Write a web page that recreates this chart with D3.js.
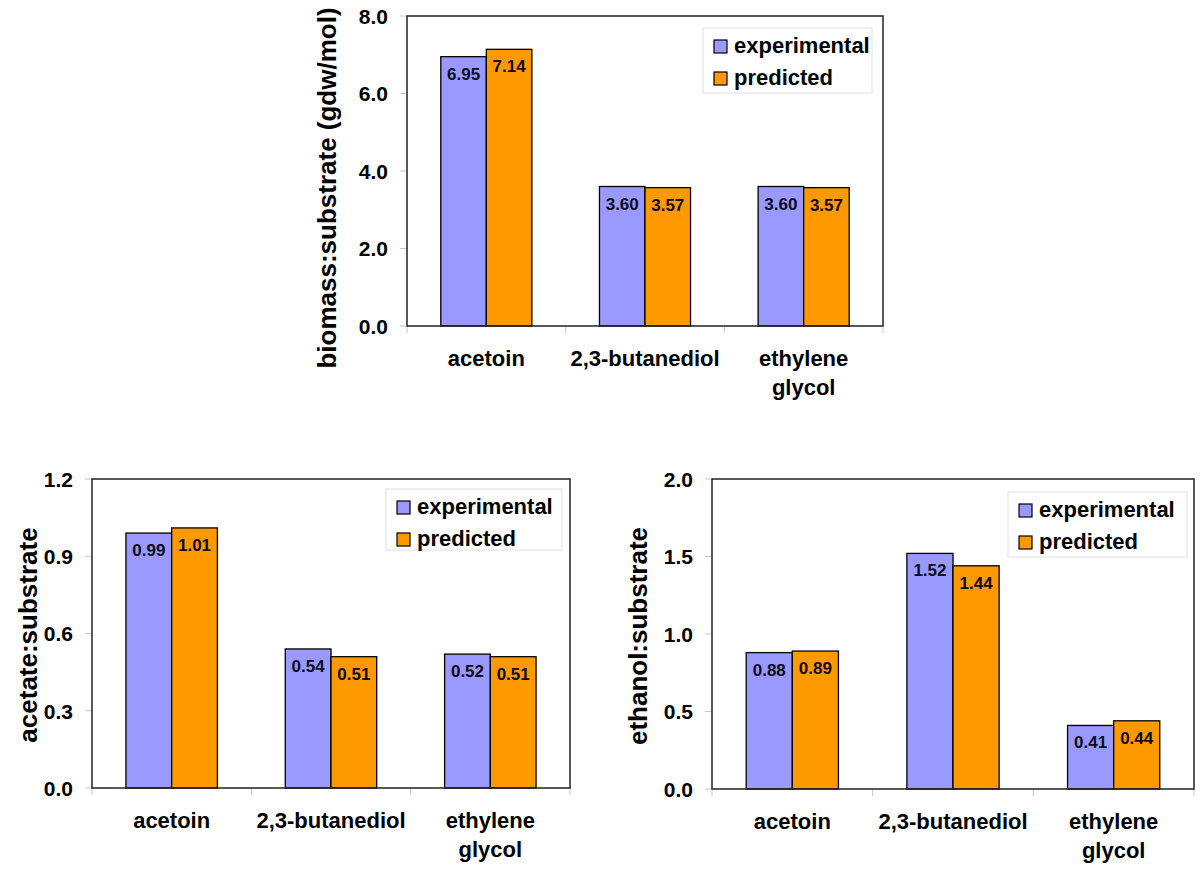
<!DOCTYPE html>
<html><head><meta charset="utf-8">
<script src="https://cdn.jsdelivr.net/npm/d3@7"></script>
<style>html,body{margin:0;padding:0;background:#fff;}svg{display:block;}</style>
</head><body>
<svg id="c" width="1200" height="870"></svg>
<script>
// ---- data ----
const categories = [["acetoin"], ["2,3-butanediol"], ["ethylene", "glycol"]];
const seriesNames = ["experimental", "predicted"];
const biomassExp = [6.95, 3.60, 3.60];
const biomassPred = [7.14, 3.57, 3.57];
const acetateExp = [0.99, 0.54, 0.52];
const acetatePred = [1.01, 0.51, 0.51];
const ethanolExp = [0.88, 1.52, 0.41];
const ethanolPred = [0.89, 1.44, 0.44];
const biomassTicks = [0, 2, 4, 6, 8];
const acetateTicks = [0, 0.3, 0.6, 0.9, 1.2];
const ethanolTicks = [0, 0.5, 1.0, 1.5, 2.0];
const titles = ["biomass:substrate (gdw/mol)", "acetate:substrate", "ethanol:substrate"];

// ---- layout ----
const colors = ["#9999FF", "#FF9900"];
const FONT = "'Liberation Sans', Arial, Helvetica, sans-serif";
const panels = [
  {x: 407, y: 16, w: 476, h: 310, exp: biomassExp, pred: biomassPred, ticks: biomassTicks, max: 8, title: titles[0], titleX: -80, titleY: 172, legend: {x: -180, y: 12, w: 169, h: 65}},
  {x: 92, y: 479, w: 478, h: 309, exp: acetateExp, pred: acetatePred, ticks: acetateTicks, max: 1.2, title: titles[1], titleX: -64, titleY: 156, legend: {x: -184, y: 10, w: 176, h: 61}},
  {x: 712, y: 479, w: 482, h: 310, exp: ethanolExp, pred: ethanolPred, ticks: ethanolTicks, max: 2.0, title: titles[2], titleX: -74, titleY: 157, legend: {x: -186, y: 13, w: 179, h: 65}}
];

const svg = d3.select("#c");
svg.append("rect").attr("width", 1200).attr("height", 870).attr("fill", "#fff");

panels.forEach(p => {
  const g = svg.append("g").attr("transform", `translate(${p.x},${p.y})`);
  const keys = categories.map(c => c.join(" "));
  const x0 = d3.scaleBand().domain(keys).range([0, p.w]).padding(0);
  const barW = x0.bandwidth() * 0.287;
  const x1 = d3.scaleBand().domain(seriesNames).range([-barW, barW]).padding(0);
  const y = d3.scaleLinear().domain([0, p.max]).range([p.h, 0]);

  // y ticks (gray, outside)
  g.selectAll(".yt").data(p.ticks).enter().append("line")
    .attr("x1", -7).attr("x2", 0)
    .attr("y1", d => y(d)).attr("y2", d => y(d))
    .attr("stroke", "#c8c8c8").attr("stroke-width", 1);
  g.selectAll(".yl").data(p.ticks).enter().append("text")
    .attr("x", -19).attr("y", d => y(d)).attr("dy", "0.38em")
    .attr("text-anchor", "end")
    .attr("font-family", FONT).attr("font-weight", "bold").attr("font-size", 21)
    .attr("fill", "#000")
    .text(d => d3.format(".1f")(d));

  // category boundary ticks
  const bounds = keys.map(k => x0(k)).concat([p.w]);
  g.selectAll(".xt").data(bounds).enter().append("line")
    .attr("x1", d => d).attr("x2", d => d)
    .attr("y1", p.h).attr("y2", p.h + 7)
    .attr("stroke", "#c8c8c8").attr("stroke-width", 1);

  // bars
  const rows = keys.map((k, i) => ({k, vals: [p.exp[i], p.pred[i]]}));
  const grp = g.selectAll(".cat").data(rows).enter().append("g")
    .attr("transform", d => `translate(${x0(d.k) + x0.bandwidth() / 2},0)`);
  grp.selectAll("rect").data(d => d.vals.map((v, j) => ({v, s: seriesNames[j], j})))
    .enter().append("rect")
    .attr("x", d => x1(d.s)).attr("width", x1.bandwidth())
    .attr("y", d => y(d.v)).attr("height", d => p.h - y(d.v))
    .attr("fill", d => colors[d.j]).attr("stroke", "#000").attr("stroke-width", 1.3);
  grp.selectAll("text").data(d => d.vals.map((v, j) => ({v, s: seriesNames[j], j})))
    .enter().append("text")
    .attr("x", d => x1(d.s) + x1.bandwidth() / 2).attr("y", d => y(d.v) + 23)
    .attr("text-anchor", "middle")
    .attr("font-family", FONT).attr("font-weight", "bold").attr("font-size", 17)
    .attr("fill", "#0a0a1a")
    .text(d => d3.format(".2f")(d.v));

  // plot border
  g.append("rect").attr("x", 0).attr("y", 0).attr("width", p.w).attr("height", p.h)
    .attr("fill", "none").attr("stroke", "#222").attr("stroke-width", 1.5);

  // category labels
  const cl = g.selectAll(".cl").data(categories).enter().append("text")
    .attr("x", (d, i) => x0(keys[i]) + x0.bandwidth() / 2)
    .attr("y", p.h + 40)
    .attr("text-anchor", "middle")
    .attr("font-family", FONT).attr("font-weight", "bold").attr("font-size", 22)
    .attr("fill", "#000");
  cl.selectAll("tspan").data(d => d).enter().append("tspan")
    .attr("x", function () { return d3.select(this.parentNode).attr("x"); })
    .attr("dy", (d, i) => i === 0 ? 0 : 29)
    .text(d => d);

  // y title
  g.append("text")
    .attr("transform", `translate(${p.titleX},${p.titleY}) rotate(-90)`)
    .attr("text-anchor", "middle").attr("dy", "0.35em")
    .attr("font-family", FONT).attr("font-weight", "bold").attr("font-size", 26)
    .attr("fill", "#000")
    .text(p.title);

  // legend
  const L = p.legend;
  const lg = g.append("g").attr("transform", `translate(${p.w + L.x},${L.y})`);
  lg.append("rect").attr("width", L.w).attr("height", L.h)
    .attr("fill", "#fff").attr("stroke", "#e0e0e0").attr("stroke-width", 1);
  seriesNames.forEach((s, j) => {
    lg.append("rect").attr("x", 11).attr("y", 12 + j * 32).attr("width", 13).attr("height", 13)
      .attr("fill", colors[j]).attr("stroke", "#000").attr("stroke-width", 1.2);
    lg.append("text").attr("x", 31).attr("y", 25 + j * 32)
      .attr("font-family", FONT).attr("font-weight", "bold").attr("font-size", 22)
      .attr("fill", "#000").text(s);
  });
});
</script>
</body></html>
